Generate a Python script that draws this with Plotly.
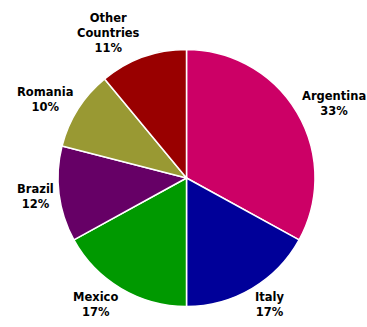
import math
import plotly.graph_objects as go

# Share by country
countries = ["Argentina", "Italy", "Mexico", "Brazil", "Romania", "Other<br>Countries"]
shares = [33, 17, 17, 12, 10, 11]
colors = ["#CC0066", "#000099", "#009900", "#660066", "#999933", "#990000"]

W, H = 367, 327
cx, cy, r = 186.5, 178, 128.5   # pie centre and radius in pixels
label_gap = 3                     # distance from rim to label anchor
line_h = 15                       # label line height in pixels

fig = go.Figure(
    go.Pie(
        labels=countries,
        values=shares,
        sort=False,
        direction="clockwise",
        rotation=0,
        marker=dict(colors=colors, line=dict(color="white", width=1.5)),
        textinfo="none",
        showlegend=False,
        domain=dict(
            x=[(cx - r) / W, (cx + r) / W],
            y=[(H - cy - r) / H, (H - cy + r) / H],
        ),
        hoverinfo="label+percent",
    )
)

# Outside labels anchored at each slice's mid angle (clockwise from 12 o'clock)
total = sum(shares)
annotations = []
cum = 0.0
R = r + label_gap
for name, v in zip(countries, shares):
    mid = (cum + v / 2) / total * 2 * math.pi
    cum += v
    s, c = math.sin(mid), math.cos(mid)
    px = cx + R * s
    py = cy - R * c
    xanchor = "left" if s > 0.25 else ("right" if s < -0.25 else "center")
    n_lines = name.count("<br>") + 2
    # push the label block away from the pie vertically, proportionally to the angle
    yshift = c * n_lines * line_h / 2
    pct = round(v / total * 100)
    annotations.append(dict(
        x=px / W, y=1 - py / H, xref="paper", yref="paper",
        xanchor=xanchor, yanchor="middle", align="center",
        yshift=yshift,
        text=f"<b>{name}<br>{pct}%</b>",
        showarrow=False,
        font=dict(family="DejaVu Sans", size=11.5, color="black"),
    ))

fig.update_layout(
    width=W,
    height=H,
    margin=dict(l=0, r=0, t=0, b=0),
    paper_bgcolor="white",
    plot_bgcolor="white",
    annotations=annotations,
)

fig.write_html("out.html")
